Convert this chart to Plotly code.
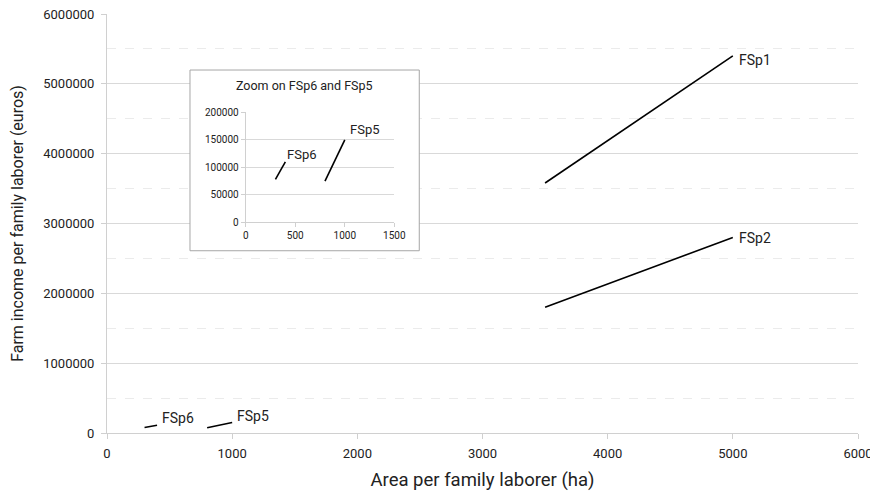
import plotly.graph_objects as go

# Data
series_names = ["FSp1", "FSp2", "FSp5", "FSp6"]
fsp1_area = [3500, 5000]
fsp1_income = [3580000, 5400000]
fsp2_area = [3500, 5000]
fsp2_income = [1800000, 2800000]
fsp5_area = [800, 1000]
fsp5_income = [75000, 150000]
fsp6_area = [300, 400]
fsp6_income = [78000, 110000]

main_xticks = [0, 1000, 2000, 3000, 4000, 5000, 6000]
main_yticks = [0, 1000000, 2000000, 3000000, 4000000, 5000000, 6000000]
inset_xticks = [0, 500, 1000, 1500]
inset_yticks = [0, 50000, 100000, 150000, 200000]

FONT = "Roboto"
TXT = "#222222"
LINE = dict(color="black", width=1.6)

# box of the inset (paper fractions of the main plot area)
BOX_X = [0.1105, 0.4158]
BOX_Y = [0.435, 0.8663]

fig = go.Figure()
for xs, ys in [(fsp1_area, fsp1_income), (fsp2_area, fsp2_income),
               (fsp5_area, fsp5_income), (fsp6_area, fsp6_income)]:
    fig.add_trace(go.Scatter(x=xs, y=ys, mode="lines", line=LINE,
                             xaxis="x", yaxis="y", hoverinfo="skip"))
# empty trace so the white background subplot of the inset box exists
fig.add_trace(go.Scatter(x=[None], y=[None], mode="lines", xaxis="x2", yaxis="y2",
                         hoverinfo="skip"))
for xs, ys in [(fsp5_area, fsp5_income), (fsp6_area, fsp6_income)]:
    fig.add_trace(go.Scatter(x=xs, y=ys, mode="lines", line=LINE,
                             xaxis="x3", yaxis="y3", hoverinfo="skip"))

ann = []
def lab(text, x, y, xref, yref, xs, ys, size):
    ann.append(dict(text=text, x=x, y=y, xref=xref, yref=yref, showarrow=False,
                    xanchor="left", yanchor="middle", xshift=xs, yshift=ys,
                    font=dict(family=FONT, size=size, color=TXT)))

lab("FSp1", fsp1_area[-1], fsp1_income[-1], "x", "y", 4, -4, 14)
lab("FSp2", fsp2_area[-1], fsp2_income[-1], "x", "y", 4, -1, 14)
lab("FSp5", fsp5_area[-1], fsp5_income[-1], "x", "y", 3, 7, 14)
lab("FSp6", fsp6_area[-1], fsp6_income[-1], "x", "y", 3, 7, 14)
lab("FSp5", fsp5_area[-1], fsp5_income[-1], "x3", "y3", 3, 10, 13)
lab("FSp6", fsp6_area[-1], fsp6_income[-1], "x3", "y3", 0, 7, 13)
ann.append(dict(text="Zoom on FSp6 and FSp5", x=0.263, y=0.829, xref="paper",
                yref="paper", showarrow=False, xanchor="center", yanchor="middle",
                font=dict(family=FONT, size=12.5, color=TXT)))

fig.update_layout(
    width=862, height=483,
    margin=dict(l=99, r=12, t=6, b=58, autoexpand=False),
    paper_bgcolor="white", plot_bgcolor="white",
    showlegend=False,
    font=dict(family=FONT, color=TXT),
    annotations=ann,
    shapes=[dict(type="rect", xref="paper", yref="paper",
                 x0=BOX_X[0], x1=BOX_X[1], y0=BOX_Y[0], y1=BOX_Y[1],
                 fillcolor="rgba(0,0,0,0)", line=dict(color="#a6a6a6", width=1),
                 layer="above")],
    xaxis=dict(range=[0, 6000], tickvals=main_xticks, showgrid=False, zeroline=False,
               showline=True, linecolor="#d0d0d0", linewidth=1,
               ticks="outside", ticklen=5, tickcolor="#d0d0d0",
               ticklabelstandoff=3, automargin=False, ticklabeloverflow="allow",
               tickfont=dict(size=13, family=FONT, color=TXT),
               title=dict(text="Area per family laborer (ha)", standoff=16,
                          font=dict(size=18.5, family=FONT, color=TXT))),
    yaxis=dict(range=[0, 6000000], tickvals=main_yticks, tickformat="d",
               showgrid=True, gridcolor="#d9d9d9", gridwidth=1, zeroline=False,
               showline=True, linecolor="#d0d0d0", linewidth=1,
               ticks="outside", ticklen=5, tickcolor="#d0d0d0",
               ticklabelstandoff=4, automargin=False, ticklabeloverflow="allow",
               minor=dict(dtick=500000, showgrid=True, griddash="dash",
                          gridcolor="#ebebeb", ticks=""),
               tickfont=dict(size=13, family=FONT, color=TXT),
               title=dict(text="Farm income per family laborer (euros)", standoff=18,
                          font=dict(size=16, family=FONT, color=TXT))),
    xaxis2=dict(domain=BOX_X, anchor="y2", visible=False, range=[0, 1]),
    yaxis2=dict(domain=BOX_Y, anchor="x2", visible=False, range=[0, 1]),
    xaxis3=dict(domain=[0.1847, 0.3826], anchor="y3", range=[0, 1500],
                tickvals=inset_xticks, showgrid=False, zeroline=False,
                showline=True, linecolor="#d0d0d0", ticks="outside", ticklen=4,
                automargin=False,
                tickcolor="#d0d0d0", tickfont=dict(size=10, family=FONT, color=TXT)),
    yaxis3=dict(domain=[0.5029, 0.7654], anchor="x3", range=[0, 200000],
                tickvals=inset_yticks, tickformat="d", showgrid=True,
                gridcolor="#d9d9d9", zeroline=False, showline=True, automargin=False,
                linecolor="#d0d0d0", ticks="outside", ticklen=4, tickcolor="#d0d0d0",
                tickfont=dict(size=10, family=FONT, color=TXT)),
)

fig.write_html("out.html")
